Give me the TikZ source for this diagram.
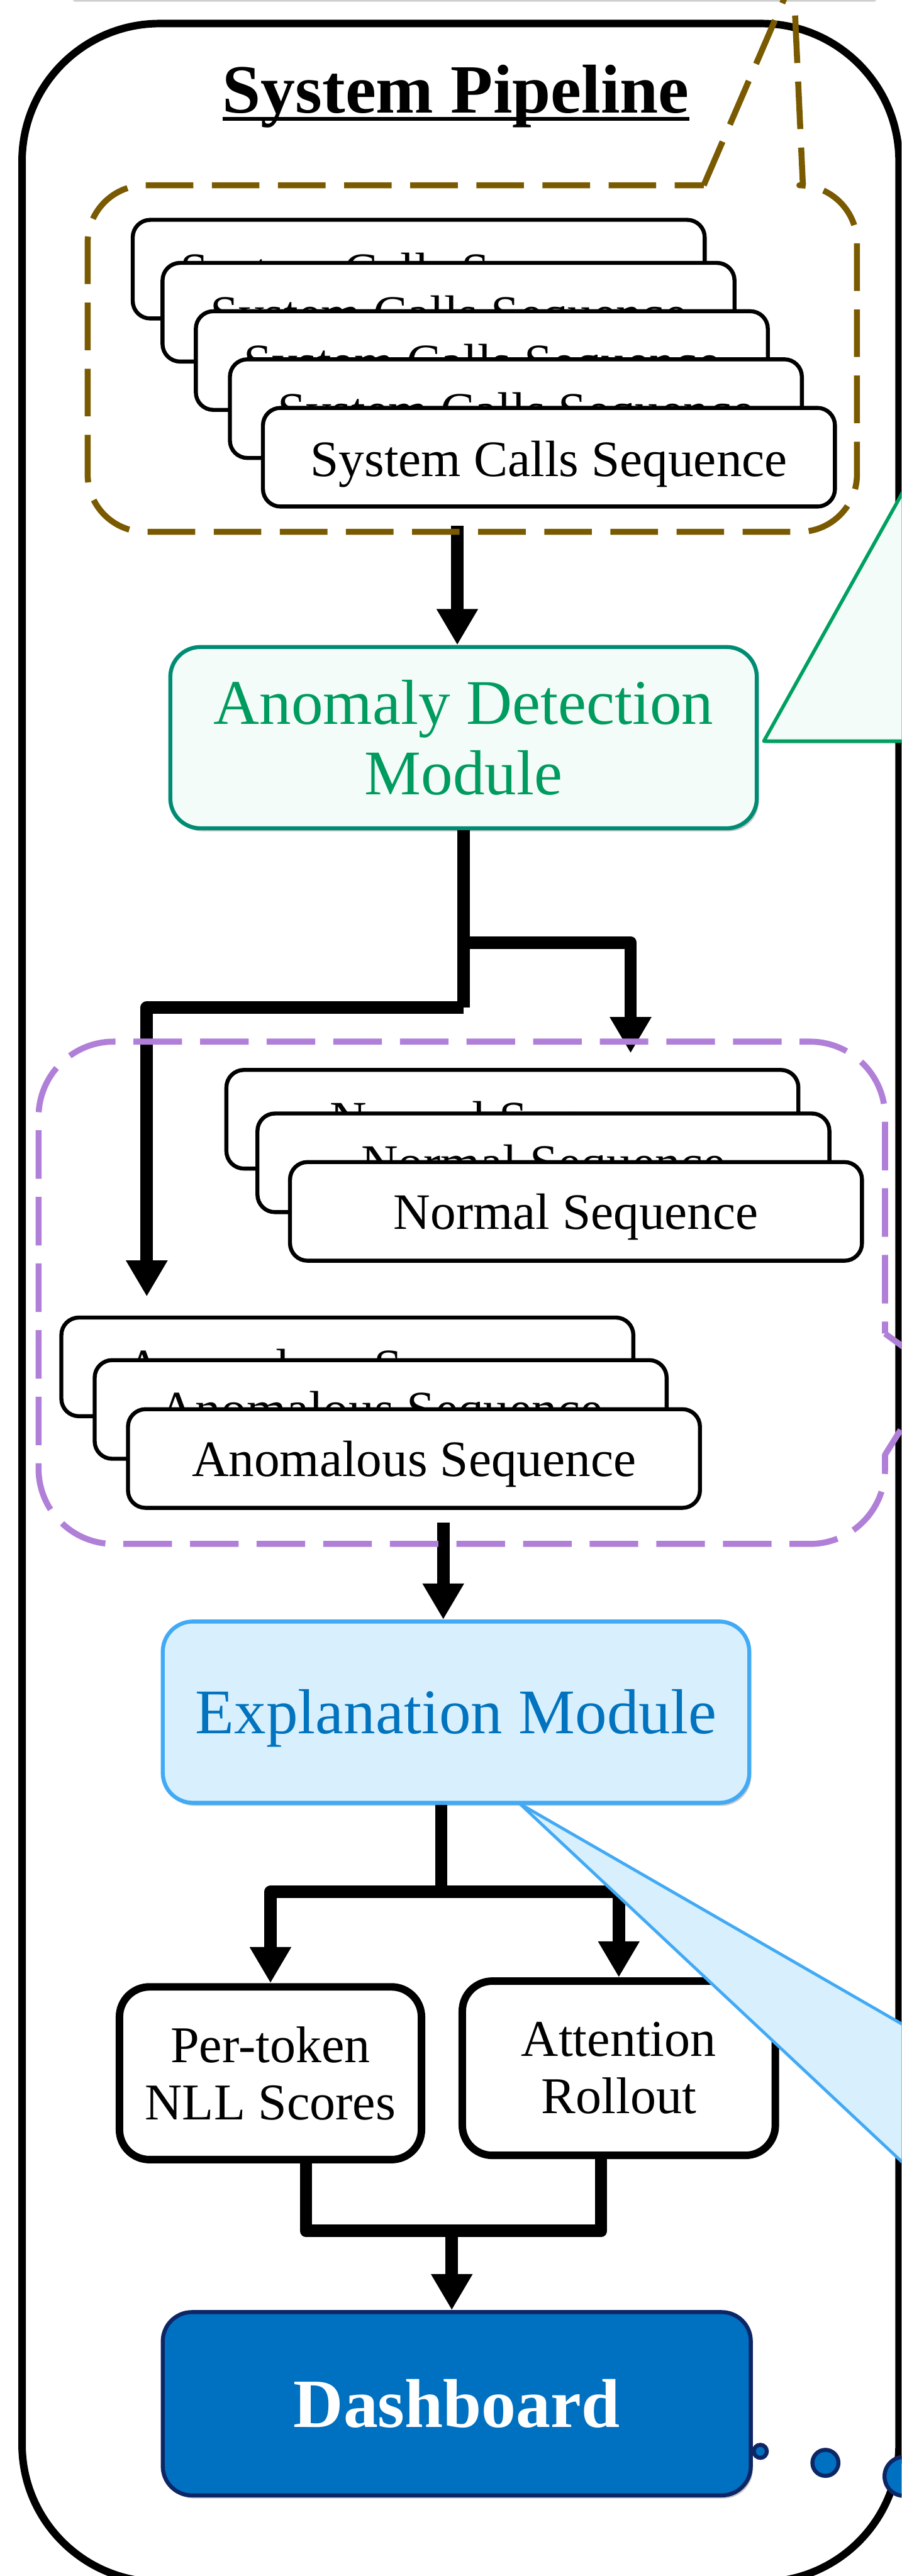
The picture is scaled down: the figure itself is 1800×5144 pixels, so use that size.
\documentclass[tikz,border=0pt]{standalone}
\usepackage{fontspec}
\setmainfont{Liberation Serif}
\usetikzlibrary{arrows.meta,shadows,calc}
\definecolor{brownC}{RGB}{122,90,0}
\definecolor{purpC}{RGB}{176,128,216}
\definecolor{tealB}{RGB}{0,140,115}
\definecolor{greenT}{RGB}{0,155,95}
\definecolor{mint}{RGB}{244,252,249}
\definecolor{greenTri}{RGB}{0,160,96}
\definecolor{lblue}{RGB}{216,240,253}
\definecolor{bblue}{RGB}{66,170,245}
\definecolor{tblue}{RGB}{2,115,190}
\definecolor{dashF}{RGB}{0,112,192}
\definecolor{navy}{RGB}{13,38,102}
\begin{document}
\begin{tikzpicture}[x=1pt,y=-1pt,
  conn/.style={line width=25pt, line join=round},
  arr/.style={conn, -{Triangle[width=78pt,length=72pt]}},
  softshadow/.style={drop shadow={opacity=0.22, shadow xshift=4pt, shadow yshift=-6pt, fill=black}},
  seqbox/.style={draw, line width=8pt, fill=white, rounded corners=35pt,
    minimum width=1142pt, minimum height=197pt, inner sep=0pt,
    font=\fontsize{102}{110}\selectfont, text height=96pt, text depth=20pt},
  subbox/.style={seqbox, text height=90pt},
  modbox/.style={draw=tealB, line width=8pt, fill=mint, rounded corners=60pt,
    minimum width=1171pt, minimum height=362pt, inner sep=0pt, text=greenT,
    align=center, font=\fontsize{127}{140}\selectfont, softshadow},
  explbox/.style={draw=bblue, line width=8pt, fill=lblue, rounded corners=60pt,
    minimum width=1171pt, minimum height=362pt, inner sep=0pt, text=tblue,
    font=\fontsize{127}{140}\selectfont, text height=106pt, text depth=20pt, softshadow},
  outbox/.style={draw, line width=15pt, fill=white, rounded corners=60pt,
    inner sep=0pt, align=center, font=\fontsize{103}{114}\selectfont},
  dashbox/.style={draw=navy, line width=8pt, fill=dashF, rounded corners=58pt,
    minimum width=1174pt, minimum height=366pt, inner sep=0pt, text=white,
    font=\fontsize{138}{150}\selectfont\bfseries, softshadow},
  bubble/.style={circle, draw=navy, line width=8pt, fill=dashF, inner sep=0pt,
    drop shadow={opacity=0.2, shadow xshift=2pt, shadow yshift=-4pt, fill=black}},
  browndash/.style={draw=brownC, line width=12pt, dash pattern=on 95pt off 37pt, line join=round},
  purpdash/.style={draw=purpC, line width=12pt, dash pattern=on 97pt off 36pt, line join=round}
]
\useasboundingbox (0,0) rectangle (1800,5144);
\clip (0,0) rectangle (1800,5144);

% box above (only its shadow edge is visible)
\draw[line width=10pt, gray!30, line cap=round] (150,-1) -- (1745,-1);
\draw[line width=5pt, gray!45, line cap=round] (150,-1) -- (1745,-1);

% outer pipeline frame
\draw[line width=15pt, rounded corners=275pt] (44,47) rectangle (1795,5156);

% title
\node[font=\fontsize{138}{150}\selectfont\bfseries, anchor=base, inner sep=0pt] (title) at (910,225) {System Pipeline};
\draw[line width=7pt] ([yshift=-12pt]title.base west) -- ([yshift=-12pt]title.base east);

% system call stack
\node[seqbox] (s1) at (836,537.5) {System Calls Sequence};
\node[seqbox] (s2) at (895.5,623.5) {System Calls Sequence};
\node[seqbox] (s3) at (962,720) {System Calls Sequence};
\node[seqbox] (s4) at (1030,816) {System Calls Sequence};
\node[seqbox] (s5) at (1096,913) {System Calls Sequence};

% anomaly detection module
\node[modbox] (anomaly) at (925.5,1473) {Anomaly Detection\\Module};

% coordinates for connectors
\coordinate (sysOut) at (913,1050);
\coordinate (jR) at (925.5,1882);
\coordinate (jL) at (925.5,2012);
\coordinate (normIn) at (1259,2103);
\coordinate (anomIn) at (293,2589);
\coordinate (seqOut) at (885,3040);

\draw[arr] (sysOut) -- (sysOut |- anomaly.north);
\draw[conn] (anomaly.south) -- (jL);
\draw[arr] (jL) -| (anomIn);
\draw[arr] (jR) -| (normIn);

% green callout
\filldraw[fill=mint, draw=greenTri, line width=7pt, line join=round,
  drop shadow={opacity=0.18, shadow xshift=3pt, shadow yshift=-5pt, fill=black}]
  (1525,1480) -- (1900,808) -- (1900,1480) -- cycle;

% brown dashed group with callout
\draw[browndash] (1405,370) -- (1584,-45) -- (1603,370) -- (1596,370)
  .. controls (1659.5,370) and (1711,421.5) .. (1711,485) -- (1711,947)
  .. controls (1711,1010.5) and (1659.5,1062) .. (1596,1062) -- (290,1062)
  .. controls (226.5,1062) and (175,1010.5) .. (175,947) -- (175,485)
  .. controls (175,421.5) and (226.5,370) .. (290,370) -- cycle;

% normal and anomalous stacks
\node[subbox] (n1) at (1023,2235) {Normal Sequence};
\node[subbox] (n2) at (1085,2322) {Normal Sequence};
\node[subbox] (n3) at (1150,2419) {Normal Sequence};
\node[subbox] (a1) at (693.5,2729.5) {Anomalous Sequence};
\node[subbox] (a2) at (760,2814.5) {Anomalous Sequence};
\node[subbox] (a3) at (826.5,2912.5) {Anomalous Sequence};

% explanation module
\node[explbox] (expl) at (910.5,3419) {Explanation Module};
\draw[arr] (seqOut) -- (seqOut |- expl.north);

% purple dashed group with callout
\draw[purpdash] (1767,2663) -- (1871,2739) -- (1767,2905) -- (1767,2933)
  .. controls (1767,3015.8) and (1699.8,3083) .. (1617,3083) -- (227,3083)
  .. controls (144.2,3083) and (77,3015.8) .. (77,2933) -- (77,2230)
  .. controls (77,2147.2) and (144.2,2080) .. (227,2080) -- (1617,2080)
  .. controls (1699.8,2080) and (1767,2147.2) .. (1767,2230) -- cycle;

% outputs of the explanation module
\node[outbox, minimum width=603pt, minimum height=345pt] (pertoken) at (540,4140) {Per-token\\NLL Scores};
\node[outbox, minimum width=625pt, minimum height=348pt] (attn) at (1235.5,4130) {Attention\\Rollout};

\coordinate (jE) at (881,3778);
\draw[conn] (expl.south -| jE) -- (jE);
\draw[arr] (jE) -| (pertoken.north);
\draw[arr] (jE) -| (attn.north);

% blue callout
\filldraw[fill=lblue, draw=bblue, line width=6pt, line join=round,
  drop shadow={opacity=0.18, shadow xshift=3pt, shadow yshift=-5pt, fill=black}]
  (1038,3602) -- (1900,4099) -- (1900,4410) -- cycle;

% dashboard
\node[dashbox] (dash) at (912,4800) {Dashboard};
\coordinate (mL) at (611,4455);
\coordinate (mR) at (1200,4455);
\coordinate (mC) at (902,4455);
\draw[conn] (pertoken.south -| mL) -- (mL) -- (mR) -- (attn.south -| mR);
\draw[arr] (mC) -- (mC |- dash.north);

% thought bubbles
\node[bubble, minimum size=26pt] (b1) at (1518,4895) {};
\node[bubble, minimum size=52pt] (b2) at (1648,4918) {};
\node[bubble, minimum size=78pt] (b3) at (1805,4945) {};
\end{tikzpicture}
\end{document}
